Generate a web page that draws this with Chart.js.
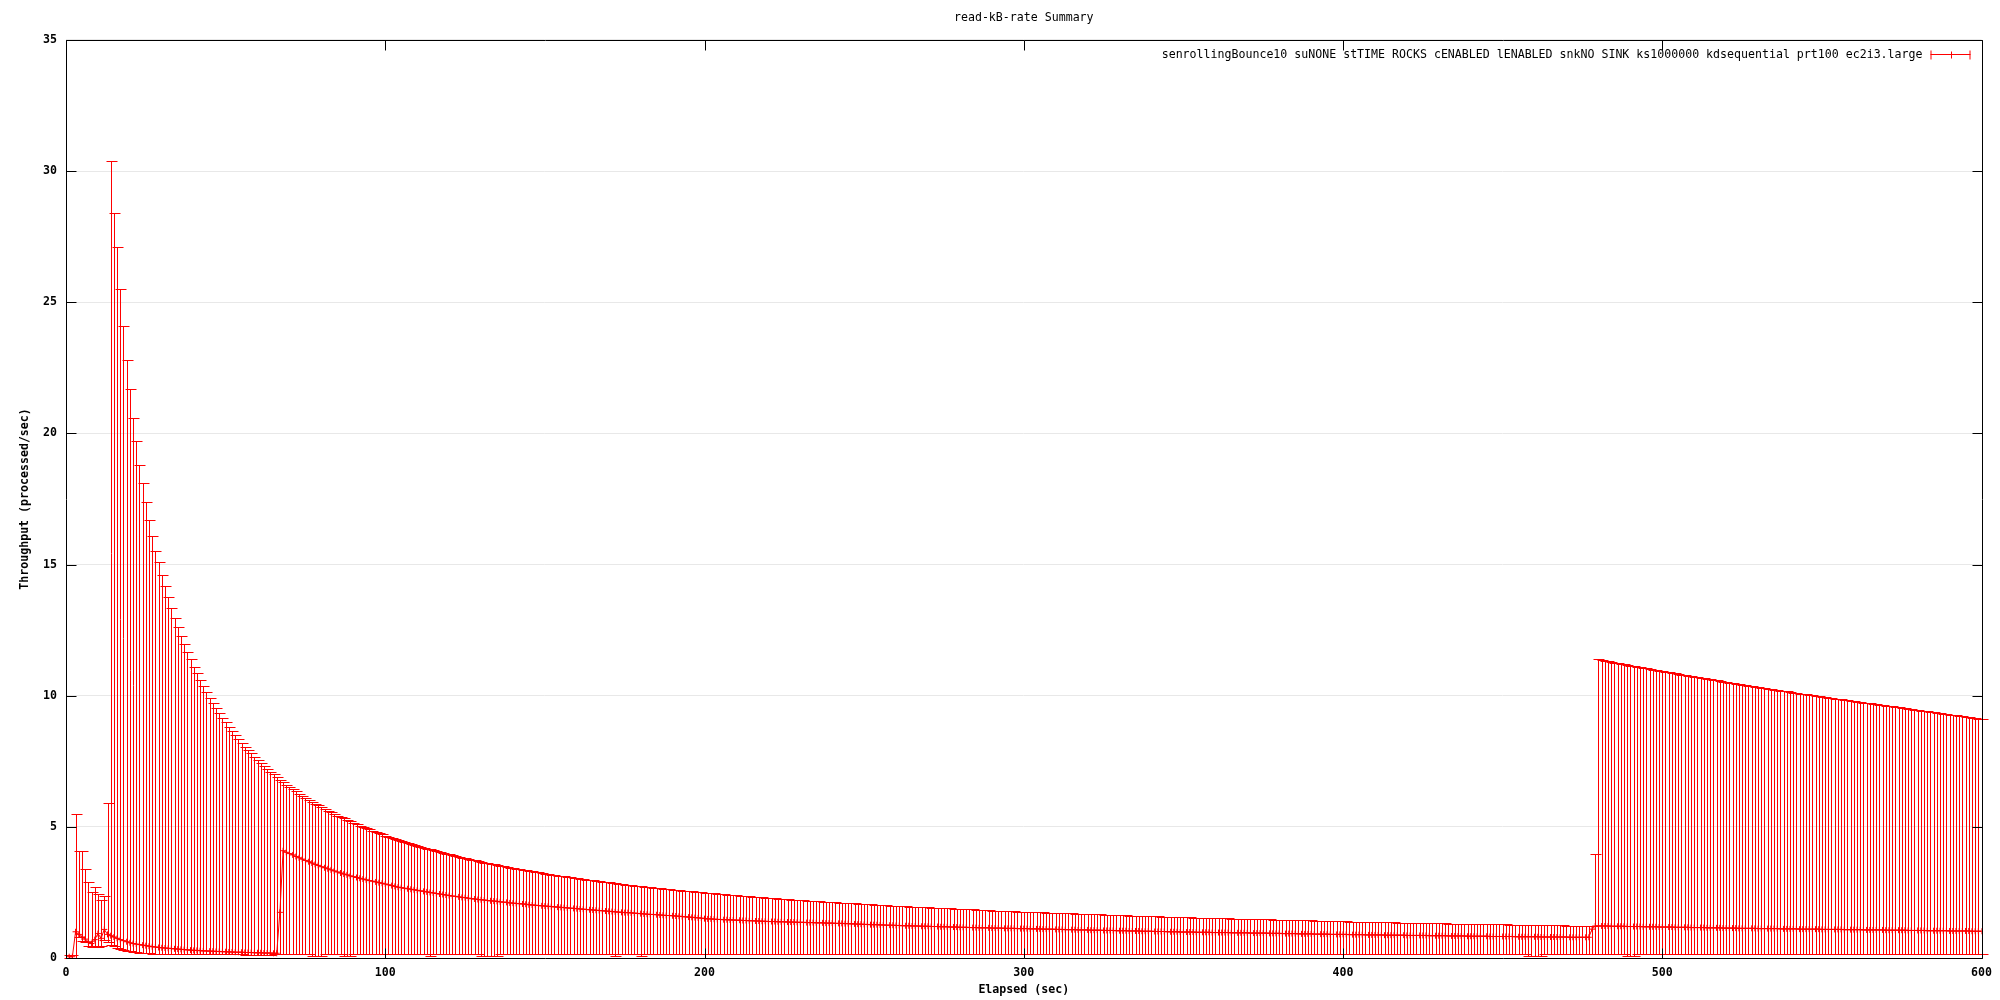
<!DOCTYPE html>
<html>
<head>
<meta charset="utf-8">
<title>read-kB-rate Summary</title>
<script src="https://cdn.jsdelivr.net/npm/chart.js@4.4.1/dist/chart.umd.min.js"></script>
<style>
  html, body { margin: 0; padding: 0; background: #fff; }
</style>
</head>
<body>
<canvas id="chart" width="2000" height="1000"></canvas>
<script>
// elapsed seconds of each sample
const elapsed = [
  1,2,3,4,5,6,7,8,9,10, 11,12,13,14,15,16,17,18,19,20,
  21,22,23,24,25,26,27,28,29,30, 31,32,33,34,35,36,37,38,39,40,
  41,42,43,44,45,46,47,48,49,50, 51,52,53,54,55,56,57,58,59,60,
  61,62,63,64,65,66,67,68,69,70, 71,72,73,74,75,76,77,78,79,80,
  81,82,83,84,85,86,87,88,89,90, 91,92,93,94,95,96,97,98,99,100,
  101,102,103,104,105,106,107,108,109,110, 111,112,113,114,115,116,117,118,119,120,
  121,122,123,124,125,126,127,128,129,130, 131,132,133,134,135,136,137,138,139,140,
  141,142,143,144,145,146,147,148,149,150, 151,152,153,154,155,156,157,158,159,160,
  161,162,163,164,165,166,167,168,169,170, 171,172,173,174,175,176,177,178,179,180,
  181,182,183,184,185,186,187,188,189,190, 191,192,193,194,195,196,197,198,199,200,
  201,202,203,204,205,206,207,208,209,210, 211,212,213,214,215,216,217,218,219,220,
  221,222,223,224,225,226,227,228,229,230, 231,232,233,234,235,236,237,238,239,240,
  241,242,243,244,245,246,247,248,249,250, 251,252,253,254,255,256,257,258,259,260,
  261,262,263,264,265,266,267,268,269,270, 271,272,273,274,275,276,277,278,279,280,
  281,282,283,284,285,286,287,288,289,290, 291,292,293,294,295,296,297,298,299,300,
  301,302,303,304,305,306,307,308,309,310, 311,312,313,314,315,316,317,318,319,320,
  321,322,323,324,325,326,327,328,329,330, 331,332,333,334,335,336,337,338,339,340,
  341,342,343,344,345,346,347,348,349,350, 351,352,353,354,355,356,357,358,359,360,
  361,362,363,364,365,366,367,368,369,370, 371,372,373,374,375,376,377,378,379,380,
  381,382,383,384,385,386,387,388,389,390, 391,392,393,394,395,396,397,398,399,400,
  401,402,403,404,405,406,407,408,409,410, 411,412,413,414,415,416,417,418,419,420,
  421,422,423,424,425,426,427,428,429,430, 431,432,433,434,435,436,437,438,439,440,
  441,442,443,444,445,446,447,448,449,450, 451,452,453,454,455,456,457,458,459,460,
  461,462,463,464,465,466,467,468,469,470, 471,472,473,474,475,476,477,478,479,480,
  481,482,483,484,485,486,487,488,489,490, 491,492,493,494,495,496,497,498,499,500,
  501,502,503,504,505,506,507,508,509,510, 511,512,513,514,515,516,517,518,519,520,
  521,522,523,524,525,526,527,528,529,530, 531,532,533,534,535,536,537,538,539,540,
  541,542,543,544,545,546,547,548,549,550, 551,552,553,554,555,556,557,558,559,560,
  561,562,563,564,565,566,567,568,569,570, 571,572,573,574,575,576,577,578,579,580,
  581,582,583,584,585,586,587,588,589,590, 591,592,593,594,595,596,597,598,599,600
];

// mean throughput (the connected points)
const meanRate = [
  0.05,0.05,1.00,0.90,0.80,0.72,0.62,0.55,0.70,0.93, 0.75,1.09,0.90,0.85,0.80,0.75,0.70,0.66,0.62,0.58,
  0.55,0.53,0.51,0.49,0.47,0.45,0.43,0.42,0.40,0.39, 0.38,0.37,0.36,0.35,0.34,0.33,0.32,0.31,0.30,0.29,
  0.29,0.28,0.27,0.27,0.26,0.26,0.25,0.25,0.24,0.24, 0.23,0.23,0.22,0.22,0.22,0.21,0.21,0.21,0.20,0.20,
  0.20,0.19,0.19,0.19,0.18,0.18,1.74,4.09,4.03,3.98, 3.93,3.87,3.82,3.77,3.72,3.67,3.62,3.57,3.53,3.48,
  3.44,3.40,3.36,3.32,3.28,3.24,3.20,3.17,3.13,3.10, 3.07,3.04,3.01,2.98,2.95,2.93,2.90,2.87,2.85,2.82,
  2.79,2.76,2.73,2.70,2.68,2.66,2.64,2.62,2.60,2.58, 2.56,2.54,2.52,2.50,2.48,2.46,2.44,2.42,2.40,2.38,
  2.36,2.35,2.33,2.31,2.30,2.28,2.26,2.25,2.23,2.22, 2.21,2.19,2.18,2.17,2.16,2.14,2.13,2.12,2.10,2.09,
  2.08,2.07,2.06,2.05,2.03,2.02,2.01,2.00,1.99,1.98, 1.97,1.96,1.95,1.94,1.93,1.92,1.91,1.90,1.89,1.88,
  1.87,1.86,1.85,1.84,1.83,1.82,1.81,1.80,1.79,1.78, 1.77,1.76,1.75,1.74,1.73,1.73,1.72,1.71,1.70,1.69,
  1.68,1.67,1.66,1.66,1.65,1.64,1.63,1.62,1.62,1.61, 1.60,1.59,1.58,1.57,1.56,1.55,1.54,1.53,1.52,1.50,
  1.49,1.49,1.48,1.47,1.47,1.46,1.46,1.45,1.45,1.44, 1.44,1.43,1.43,1.42,1.42,1.41,1.41,1.40,1.40,1.39,
  1.39,1.39,1.38,1.38,1.38,1.37,1.37,1.37,1.36,1.36, 1.36,1.35,1.35,1.35,1.34,1.34,1.34,1.33,1.33,1.33,
  1.32,1.32,1.32,1.31,1.31,1.30,1.30,1.29,1.29,1.28, 1.28,1.27,1.27,1.27,1.26,1.26,1.25,1.25,1.25,1.24,
  1.24,1.23,1.23,1.23,1.22,1.22,1.22,1.21,1.21,1.21, 1.20,1.20,1.20,1.19,1.19,1.19,1.18,1.18,1.18,1.17,
  1.17,1.17,1.16,1.16,1.16,1.15,1.15,1.15,1.15,1.14, 1.14,1.14,1.14,1.13,1.13,1.13,1.13,1.12,1.12,1.12,
  1.12,1.11,1.11,1.11,1.11,1.10,1.10,1.10,1.10,1.09, 1.09,1.09,1.08,1.08,1.08,1.08,1.07,1.07,1.07,1.07,
  1.06,1.06,1.06,1.06,1.05,1.05,1.05,1.05,1.04,1.04, 1.04,1.04,1.03,1.03,1.03,1.03,1.02,1.02,1.02,1.02,
  1.01,1.01,1.01,1.01,1.00,1.00,1.00,1.00,0.99,0.99, 0.99,0.99,0.99,0.98,0.98,0.98,0.98,0.98,0.97,0.97,
  0.97,0.97,0.97,0.97,0.96,0.96,0.96,0.96,0.96,0.96, 0.95,0.95,0.95,0.95,0.95,0.95,0.94,0.94,0.94,0.94,
  0.93,0.93,0.93,0.93,0.93,0.92,0.92,0.92,0.92,0.92, 0.91,0.91,0.91,0.91,0.91,0.90,0.90,0.90,0.90,0.90,
  0.90,0.89,0.89,0.89,0.89,0.89,0.88,0.88,0.88,0.88, 0.88,0.88,0.87,0.87,0.87,0.87,0.87,0.87,0.87,0.86,
  0.86,0.86,0.86,0.86,0.86,0.86,0.85,0.85,0.85,0.85, 0.85,0.85,0.84,0.84,0.84,0.84,0.84,0.84,0.83,0.83,
  0.83,0.83,0.83,0.83,0.83,0.82,0.82,0.82,0.82,0.82, 0.82,0.82,0.82,0.81,0.81,0.81,0.81,0.81,0.81,0.81,
  0.81,0.80,0.80,0.80,0.80,0.80,0.80,0.80,0.80,0.80, 0.79,0.79,0.79,0.79,0.79,0.79,0.79,1.10,1.22,1.22,
  1.22,1.22,1.22,1.21,1.21,1.21,1.21,1.21,1.20,1.20, 1.20,1.20,1.20,1.19,1.19,1.19,1.19,1.19,1.18,1.18,
  1.18,1.18,1.18,1.17,1.17,1.17,1.17,1.17,1.16,1.16, 1.16,1.16,1.16,1.15,1.15,1.15,1.15,1.15,1.14,1.14,
  1.14,1.14,1.14,1.13,1.13,1.13,1.13,1.13,1.13,1.12, 1.12,1.12,1.12,1.12,1.12,1.12,1.11,1.11,1.11,1.11,
  1.11,1.11,1.10,1.10,1.10,1.10,1.10,1.10,1.10,1.09, 1.09,1.09,1.09,1.09,1.09,1.09,1.08,1.08,1.08,1.08,
  1.08,1.08,1.07,1.07,1.07,1.07,1.07,1.07,1.07,1.06, 1.06,1.06,1.06,1.06,1.06,1.06,1.05,1.05,1.05,1.05,
  1.05,1.05,1.04,1.04,1.04,1.04,1.04,1.04,1.04,1.03, 1.03,1.03,1.03,1.03,1.03,1.03,1.02,1.02,1.02,1.02
];

// lower end of each error bar
const minRate = [
  0.00,0.00,0.00,0.79,0.66,0.60,0.46,0.43,0.46,0.43, 0.45,0.68,0.60,0.50,0.45,0.40,0.35,0.30,0.28,0.25,
  0.22,0.21,0.20,0.19,0.18,0.18,0.17,0.17,0.16,0.16, 0.16,0.16,0.16,0.16,0.16,0.16,0.16,0.16,0.16,0.16,
  0.16,0.16,0.16,0.16,0.16,0.16,0.16,0.16,0.16,0.16, 0.16,0.16,0.16,0.16,0.16,0.10,0.10,0.10,0.10,0.10,
  0.10,0.10,0.10,0.10,0.16,0.16,0.16,0.16,0.16,0.16, 0.16,0.16,0.16,0.16,0.16,0.16,0.09,0.09,0.09,0.09,
  0.16,0.16,0.16,0.16,0.16,0.16,0.09,0.09,0.09,0.16, 0.16,0.16,0.16,0.16,0.16,0.16,0.16,0.16,0.16,0.16,
  0.16,0.16,0.16,0.16,0.16,0.16,0.16,0.16,0.16,0.16, 0.16,0.16,0.16,0.09,0.16,0.16,0.16,0.16,0.16,0.16,
  0.16,0.16,0.16,0.16,0.16,0.16,0.16,0.16,0.16,0.09, 0.09,0.09,0.09,0.09,0.09,0.16,0.16,0.16,0.16,0.16,
  0.16,0.16,0.16,0.16,0.16,0.16,0.16,0.16,0.16,0.16, 0.16,0.16,0.16,0.16,0.16,0.16,0.16,0.16,0.16,0.16,
  0.16,0.16,0.16,0.16,0.16,0.16,0.16,0.16,0.16,0.16, 0.16,0.09,0.16,0.16,0.16,0.16,0.16,0.16,0.16,0.09,
  0.16,0.16,0.16,0.16,0.16,0.16,0.16,0.16,0.16,0.16, 0.16,0.16,0.16,0.16,0.16,0.16,0.16,0.16,0.16,0.16,
  0.16,0.16,0.16,0.16,0.16,0.16,0.16,0.16,0.16,0.16, 0.16,0.16,0.16,0.16,0.16,0.16,0.16,0.16,0.16,0.16,
  0.16,0.16,0.16,0.16,0.16,0.16,0.16,0.16,0.16,0.16, 0.16,0.16,0.16,0.16,0.16,0.16,0.16,0.16,0.16,0.16,
  0.16,0.16,0.16,0.16,0.16,0.16,0.16,0.16,0.16,0.16, 0.16,0.16,0.16,0.16,0.16,0.16,0.16,0.16,0.16,0.16,
  0.16,0.16,0.16,0.16,0.16,0.16,0.16,0.16,0.16,0.16, 0.16,0.16,0.16,0.16,0.16,0.16,0.16,0.16,0.16,0.16,
  0.16,0.16,0.16,0.16,0.16,0.16,0.16,0.16,0.16,0.16, 0.16,0.16,0.16,0.16,0.16,0.16,0.16,0.16,0.16,0.16,
  0.16,0.16,0.16,0.16,0.16,0.16,0.16,0.16,0.16,0.16, 0.16,0.16,0.16,0.16,0.16,0.16,0.16,0.16,0.16,0.16,
  0.16,0.16,0.16,0.16,0.16,0.16,0.16,0.16,0.16,0.16, 0.16,0.16,0.16,0.16,0.16,0.16,0.16,0.16,0.16,0.16,
  0.16,0.16,0.16,0.16,0.16,0.16,0.16,0.16,0.16,0.16, 0.16,0.16,0.16,0.16,0.16,0.16,0.16,0.16,0.16,0.16,
  0.16,0.16,0.16,0.16,0.16,0.16,0.16,0.16,0.16,0.16, 0.16,0.16,0.16,0.16,0.16,0.16,0.16,0.16,0.16,0.16,
  0.16,0.16,0.16,0.16,0.16,0.16,0.16,0.16,0.16,0.16, 0.16,0.16,0.16,0.16,0.16,0.16,0.16,0.16,0.16,0.16,
  0.16,0.16,0.16,0.16,0.16,0.16,0.16,0.16,0.16,0.16, 0.16,0.16,0.16,0.16,0.16,0.16,0.16,0.16,0.16,0.16,
  0.16,0.16,0.16,0.16,0.16,0.16,0.16,0.16,0.16,0.16, 0.16,0.16,0.16,0.16,0.16,0.16,0.16,0.16,0.16,0.16,
  0.16,0.16,0.16,0.16,0.16,0.16,0.16,0.16,0.16,0.16, 0.16,0.16,0.16,0.16,0.16,0.16,0.16,0.09,0.09,0.09,
  0.09,0.09,0.16,0.16,0.16,0.16,0.16,0.16,0.16,0.16, 0.16,0.16,0.16,0.16,0.16,0.16,0.16,0.16,0.16,0.16,
  0.16,0.16,0.16,0.16,0.16,0.16,0.16,0.16,0.09,0.09, 0.09,0.16,0.16,0.16,0.16,0.16,0.16,0.16,0.16,0.16,
  0.16,0.16,0.16,0.16,0.16,0.16,0.16,0.16,0.16,0.16, 0.16,0.16,0.16,0.16,0.16,0.16,0.16,0.16,0.16,0.16,
  0.16,0.16,0.16,0.16,0.16,0.16,0.16,0.16,0.16,0.16, 0.16,0.16,0.16,0.16,0.16,0.16,0.16,0.16,0.16,0.16,
  0.16,0.16,0.16,0.16,0.16,0.16,0.16,0.16,0.16,0.16, 0.16,0.16,0.16,0.16,0.16,0.16,0.16,0.16,0.16,0.16,
  0.16,0.16,0.16,0.16,0.16,0.16,0.16,0.16,0.16,0.16, 0.16,0.16,0.16,0.16,0.16,0.16,0.16,0.16,0.16,0.16,
  0.16,0.16,0.16,0.16,0.16,0.16,0.16,0.16,0.16,0.16, 0.16,0.16,0.16,0.16,0.16,0.16,0.16,0.16,0.16,0.16
];

// upper end of each error bar
const maxRate = [
  0.10,0.10,5.50,4.07,4.07,3.38,2.88,2.50,2.69,2.44, 2.21,2.35,5.90,30.4,28.4,27.1,25.5,24.1,22.8,21.7,
  20.6,19.7,18.8,18.1,17.4,16.7,16.1,15.5,15.1,14.6, 14.18,13.76,13.36,12.98,12.62,12.29,11.97,11.67,11.38,11.11,
  10.85,10.60,10.37,10.14,9.93,9.72,9.52,9.33,9.15,8.98, 8.81,8.65,8.49,8.34,8.20,8.06,7.93,7.80,7.67,7.55,
  7.43,7.32,7.21,7.10,7.00,6.90,6.80,6.70,6.61,6.52, 6.44,6.35,6.27,6.19,6.11,6.04,5.96,5.89,5.82,5.75,
  5.69,5.62,5.56,5.49,5.43,5.37,5.32,5.26,5.21,5.15, 5.10,5.05,5.00,4.95,4.90,4.85,4.80,4.76,4.71,4.67,
  4.63,4.58,4.54,4.50,4.46,4.42,4.39,4.35,4.31,4.27, 4.24,4.20,4.17,4.14,4.10,4.07,4.04,4.01,3.98,3.95,
  3.92,3.89,3.86,3.83,3.80,3.77,3.75,3.72,3.69,3.67, 3.64,3.62,3.59,3.57,3.54,3.52,3.50,3.47,3.45,3.43,
  3.41,3.38,3.36,3.34,3.32,3.30,3.28,3.26,3.24,3.22, 3.20,3.18,3.16,3.14,3.13,3.11,3.09,3.07,3.06,3.04,
  3.02,3.00,2.99,2.97,2.96,2.94,2.92,2.91,2.89,2.88, 2.86,2.85,2.83,2.82,2.80,2.79,2.78,2.76,2.75,2.73,
  2.72,2.71,2.70,2.68,2.67,2.66,2.64,2.63,2.62,2.61, 2.60,2.58,2.57,2.56,2.55,2.54,2.53,2.51,2.50,2.49,
  2.48,2.47,2.46,2.45,2.44,2.43,2.42,2.41,2.40,2.39, 2.38,2.37,2.36,2.35,2.34,2.33,2.32,2.31,2.30,2.29,
  2.28,2.27,2.26,2.26,2.25,2.24,2.23,2.22,2.22,2.21, 2.20,2.19,2.18,2.18,2.17,2.16,2.15,2.14,2.14,2.13,
  2.12,2.11,2.11,2.10,2.09,2.08,2.08,2.07,2.06,2.06, 2.05,2.04,2.03,2.03,2.02,2.01,2.01,2.00,1.99,1.99,
  1.98,1.97,1.97,1.96,1.96,1.95,1.94,1.94,1.93,1.93, 1.92,1.91,1.91,1.90,1.90,1.89,1.89,1.88,1.87,1.87,
  1.86,1.86,1.85,1.85,1.84,1.83,1.83,1.82,1.82,1.81, 1.81,1.80,1.80,1.79,1.79,1.78,1.78,1.77,1.77,1.76,
  1.76,1.75,1.75,1.74,1.74,1.74,1.73,1.73,1.72,1.72, 1.71,1.71,1.71,1.70,1.70,1.69,1.69,1.68,1.68,1.67,
  1.67,1.67,1.66,1.66,1.65,1.65,1.65,1.64,1.64,1.63, 1.63,1.63,1.62,1.62,1.61,1.61,1.61,1.60,1.60,1.59,
  1.59,1.59,1.58,1.58,1.58,1.57,1.57,1.56,1.56,1.55, 1.55,1.55,1.54,1.54,1.54,1.53,1.53,1.53,1.52,1.52,
  1.52,1.51,1.51,1.51,1.50,1.50,1.50,1.49,1.49,1.49, 1.48,1.48,1.48,1.47,1.47,1.47,1.47,1.46,1.46,1.46,
  1.45,1.45,1.45,1.45,1.44,1.44,1.44,1.43,1.43,1.43, 1.42,1.42,1.42,1.42,1.41,1.41,1.41,1.40,1.40,1.40,
  1.40,1.39,1.39,1.39,1.39,1.38,1.38,1.38,1.37,1.37, 1.37,1.37,1.36,1.36,1.36,1.36,1.35,1.35,1.35,1.35,
  1.34,1.34,1.34,1.34,1.33,1.33,1.33,1.33,1.32,1.32, 1.32,1.32,1.31,1.31,1.31,1.31,1.31,1.30,1.30,1.30,
  1.30,1.29,1.29,1.29,1.29,1.29,1.28,1.28,1.28,1.28, 1.28,1.27,1.27,1.27,1.27,1.26,1.26,1.26,1.26,1.26,
  1.25,1.25,1.25,1.25,1.25,1.24,1.24,1.24,1.24,1.23, 1.23,1.23,1.23,1.23,1.22,1.22,1.22,1.22,3.96,11.38,
  11.36,11.33,11.31,11.29,11.26,11.24,11.22,11.20,11.17,11.15, 11.13,11.11,11.08,11.06,11.04,11.02,10.99,10.97,10.95,10.93,
  10.91,10.89,10.87,10.85,10.83,10.80,10.78,10.76,10.74,10.72, 10.70,10.68,10.66,10.64,10.62,10.60,10.58,10.56,10.54,10.51,
  10.49,10.47,10.45,10.43,10.41,10.40,10.38,10.36,10.34,10.32, 10.30,10.28,10.26,10.25,10.23,10.21,10.19,10.17,10.16,10.14,
  10.12,10.10,10.08,10.07,10.05,10.03,10.01,10.00,9.98,9.96, 9.94,9.93,9.91,9.89,9.88,9.86,9.84,9.82,9.81,9.79,
  9.77,9.76,9.74,9.72,9.71,9.69,9.67,9.65,9.64,9.62, 9.60,9.59,9.57,9.55,9.54,9.52,9.50,9.48,9.47,9.45,
  9.43,9.42,9.40,9.38,9.37,9.35,9.33,9.31,9.30,9.28, 9.26,9.25,9.23,9.21,9.20,9.18,9.16,9.14,9.13,9.11
];

const seriesLabel = 'senrollingBounce10 suNONE stTIME ROCKS cENABLED lENABLED snkNO SINK ks1000000 kdsequential prt100 ec2i3.large';
const xTicks = [0, 100, 200, 300, 400, 500, 600];
const yTicks = [0, 5, 10, 15, 20, 25, 30, 35];

const FONT = '"DejaVu Sans Mono", "Liberation Mono", monospace';
const FSIZE = 11.6;
const RED = '#ff0000';

// vertical error bars with caps, drawn through the y scale
const errorBars = {
  id: 'errorBars',
  beforeDatasetsDraw(chart) {
    const { ctx, scales: { y } } = chart;
    const meta = chart.getDatasetMeta(0);
    ctx.save();
    ctx.strokeStyle = RED;
    ctx.lineWidth = 1;
    ctx.beginPath();
    meta.data.forEach((pt, i) => {
      const x = Math.round(pt.x) + 0.5;
      const top = Math.round(y.getPixelForValue(maxRate[i])) + 0.5;
      const bot = Math.round(y.getPixelForValue(minRate[i])) + 0.5;
      ctx.moveTo(x, top);
      ctx.lineTo(x, bot);
      ctx.moveTo(x - 5, top);
      ctx.lineTo(x + 6, top);
      ctx.moveTo(x - 5, bot);
      ctx.lineTo(x + 6, bot);
    });
    ctx.stroke();
    ctx.restore();
  }
};

// gnuplot style frame: box, inward ticks on all four sides, key inside the plot
const frame = {
  id: 'frame',
  afterDraw(chart) {
    const { ctx, chartArea: a, scales: { x, y } } = chart;
    const L = Math.round(a.left) + 0.5, R = Math.round(a.right) + 0.5;
    const T = Math.round(a.top) + 0.5, B = Math.round(a.bottom) + 0.5;
    ctx.save();
    ctx.strokeStyle = '#000';
    ctx.lineWidth = 1;
    ctx.beginPath();
    ctx.rect(L, T, R - L, B - T);
    xTicks.forEach(v => {
      const px = Math.round(x.getPixelForValue(v)) + 0.5;
      ctx.moveTo(px, B); ctx.lineTo(px, B - 10);
      ctx.moveTo(px, T); ctx.lineTo(px, T + 10);
    });
    yTicks.forEach(v => {
      const py = Math.round(y.getPixelForValue(v)) + 0.5;
      ctx.moveTo(L, py); ctx.lineTo(L + 10, py);
      ctx.moveTo(R, py); ctx.lineTo(R - 10, py);
    });
    ctx.stroke();

    // key
    const label = chart.data.datasets[0].label;
    const ky = T + 14;
    const sx0 = R - 52, sx1 = R - 12;
    ctx.font = FSIZE + 'px ' + FONT;
    ctx.fillStyle = '#000';
    ctx.textAlign = 'right';
    ctx.textBaseline = 'middle';
    ctx.fillText(label, sx0 - 8, ky);
    ctx.strokeStyle = RED;
    ctx.beginPath();
    ctx.moveTo(sx0, ky); ctx.lineTo(sx1, ky);
    ctx.moveTo(sx0 + 0.5, ky - 4); ctx.lineTo(sx0 + 0.5, ky + 5);
    ctx.moveTo(sx1 - 0.5, ky - 4); ctx.lineTo(sx1 - 0.5, ky + 5);
    const mid = Math.round((sx0 + sx1) / 2) + 0.5;
    ctx.moveTo(mid, ky - 3); ctx.lineTo(mid, ky + 4);
    ctx.stroke();
    ctx.restore();
  }
};

const points = elapsed.map((t, i) => ({ x: t, y: meanRate[i] }));

new Chart(document.getElementById('chart'), {
  type: 'line',
  data: {
    datasets: [{
      label: seriesLabel,
      data: points,
      borderColor: RED,
      backgroundColor: RED,
      borderWidth: 1,
      tension: 0,
      pointStyle: 'cross',
      pointRadius: 3,
      pointBorderWidth: 1,
      pointBorderColor: RED
    }]
  },
  options: {
    responsive: false,
    animation: false,
    devicePixelRatio: 1,
    layout: { padding: { left: 0, right: 18, top: 0, bottom: 0 } },
    plugins: {
      legend: { display: false },
      tooltip: { enabled: false },
      title: {
        display: true,
        text: 'read-kB-rate Summary',
        fullSize: false,
        color: '#000',
        font: { family: FONT, size: FSIZE, weight: 'normal' },
        padding: { top: 11, bottom: 15 }
      }
    },
    scales: {
      x: {
        type: 'linear',
        min: 0,
        max: 600,
        afterFit: s => { s.height = 42; },
        afterBuildTicks: s => { s.ticks = xTicks.map(v => ({ value: v })); },
        grid: { display: false, drawTicks: false },
        border: { display: false },
        ticks: {
          color: '#000',
          padding: 8,
          maxRotation: 0,
          font: { family: FONT, size: FSIZE, weight: 'bold' }
        },
        title: {
          display: true,
          text: 'Elapsed (sec)',
          color: '#000',
          font: { family: FONT, size: FSIZE, weight: 'bold' },
          padding: { top: 0, bottom: 3 }
        }
      },
      y: {
        min: 0,
        max: 35,
        afterFit: s => { s.width = 66; },
        afterBuildTicks: s => { s.ticks = yTicks.map(v => ({ value: v })); },
        grid: { color: '#e8e8e8', lineWidth: 1, drawTicks: false },
        border: { display: false },
        ticks: {
          color: '#000',
          padding: 9,
          font: { family: FONT, size: FSIZE, weight: 'bold' }
        },
        title: {
          display: true,
          text: 'Throughput (processed/sec)',
          color: '#000',
          font: { family: FONT, size: FSIZE, weight: 'bold' },
          padding: { top: 18, bottom: 0 }
        }
      }
    }
  },
  plugins: [errorBars, frame]
});
</script>
</body>
</html>
